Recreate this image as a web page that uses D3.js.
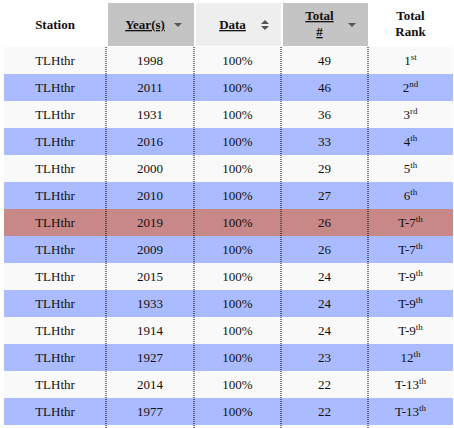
<!DOCTYPE html><html><head><meta charset="utf-8">
<script src="https://cdn.jsdelivr.net/npm/d3@7"></script>
<style>body{margin:0;background:#fff}</style></head><body><svg id="c" width="454" height="428"></svg>
<script>
const stations=["TLHthr","TLHthr","TLHthr","TLHthr","TLHthr","TLHthr","TLHthr","TLHthr","TLHthr","TLHthr","TLHthr","TLHthr","TLHthr","TLHthr"];
const years=[1998,2011,1931,2016,2000,2010,2019,2009,2015,1933,1914,1927,2014,1977];
const dataPct=["100%","100%","100%","100%","100%","100%","100%","100%","100%","100%","100%","100%","100%","100%"];
const totals=[49,46,36,33,29,27,26,26,24,24,24,23,22,22];
const rankNum=["1","2","3","4","5","6","T-7","T-7","T-9","T-9","T-9","12","T-13","T-13"];
const rankSup=["st","nd","rd","th","th","th","th","th","th","th","th","th","th","th"];
const headers=[["Station"],["Year(s)"],["Data"],["Total","#"],["Total","Rank"]];
const highlightYear=2019;

const svg=d3.select("#c");
const colEdges=[4,106,194,281,368,453];
const y=d3.scaleBand().domain(d3.range(years.length)).range([47,425]);
const font="'Liberation Serif','Times New Roman',serif";
// header backgrounds
const hbg=[null,"#c4c4c4","#eeeeee","#c4c4c4",null];
hbg.forEach((c,i)=>{if(c)svg.append("rect").attr("x",colEdges[i]+2).attr("y",3).attr("width",colEdges[i+1]-colEdges[i]-2).attr("height",43).attr("fill",c);});
headers.forEach((h,i)=>{
  const sort=i>=1&&i<=3;
  const cx=sort?(colEdges[i]+colEdges[i+1])/2-5:(colEdges[i]+colEdges[i+1])/2;
  h.forEach((t,j)=>{
    svg.append("text").attr("x",cx).attr("y",h.length==1?29:20+j*16).attr("text-anchor","middle")
      .attr("font-family",font).attr("font-weight","bold").attr("font-size",13)
      .attr("text-decoration",sort?"underline":null).attr("fill","#111").text(t);
  });
  if(sort){const ax=colEdges[i+1]-16,ay=25;
    if(i==2){svg.append("path").attr("d",`M${ax-4},${ay-1}L${ax},${ay-5}L${ax+4},${ay-1}Z M${ax-4},${ay+1}L${ax},${ay+5}L${ax+4},${ay+1}Z`).attr("fill","#555");}
    else svg.append("path").attr("d",`M${ax-4},${ay-2}L${ax+4},${ay-2}L${ax},${ay+2}Z`).attr("fill","#555");}
});
const rows=svg.selectAll("g.r").data(years).join("g").attr("transform",(d,i)=>`translate(0,${y(i)})`);
rows.append("rect").attr("x",colEdges[0]).attr("width",colEdges[5]-colEdges[0]).attr("height",y.bandwidth())
  .attr("fill",(d,i)=>d==highlightYear?"#c88888":(i%2?"#aabbff":"#f9f9f9"));
const ty=18;
[stations,years,dataPct,totals].forEach((arr,c)=>{
  rows.append("text").attr("x",(colEdges[c]+colEdges[c+1])/2).attr("y",ty).attr("text-anchor","middle")
   .attr("font-family",font).attr("font-size",13).attr("fill","#111").text((d,i)=>arr[i]);
});
rows.append("text").attr("x",(colEdges[4]+colEdges[5])/2).attr("y",ty).attr("text-anchor","middle")
  .attr("font-family",font).attr("font-size",13).attr("fill","#111")
  .each(function(d,i){const t=d3.select(this);t.append("tspan").text(rankNum[i]);
    t.append("tspan").attr("dy",-5).attr("font-size",9).text(rankSup[i]);});
// dotted column separators
colEdges.slice(1,5).forEach(x=>svg.append("line").attr("x1",x).attr("x2",x).attr("y1",47).attr("y2",428)
  .attr("stroke","#000").attr("stroke-dasharray","1,1"));
</script></body></html>
